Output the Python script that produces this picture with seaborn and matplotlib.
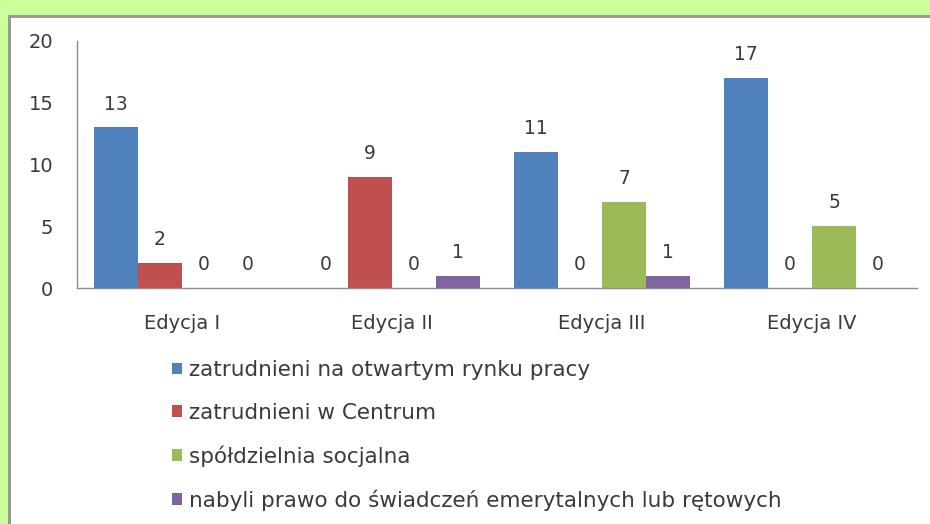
import matplotlib
matplotlib.use("Agg")
import matplotlib.pyplot as plt
import matplotlib.patches as mpatches
import seaborn as sns
import pandas as pd

editions = ["Edycja I", "Edycja II", "Edycja III", "Edycja IV"]
series = [
    "zatrudnieni na otwartym rynku pracy",
    "zatrudnieni w Centrum",
    "spółdzielnia socjalna",
    "nabyli prawo do świadczeń emerytalnych lub rętowych",
]
open_market = [13, 0, 11, 17]
centrum = [2, 9, 0, 0]
cooperative = [0, 0, 7, 5]
pension = [0, 1, 1, 0]
colors = ["#4F81BD", "#C0504D", "#9BBB59", "#8064A2"]
yticks = [0, 5, 10, 15, 20]

values = [open_market, centrum, cooperative, pension]
rows = []
for s, vals in zip(series, values):
    for e, v in zip(editions, vals):
        rows.append({"edycja": e, "seria": s, "wartosc": v})
df = pd.DataFrame(rows)

sns.set_style("white")
plt.rcParams["font.family"] = ["DejaVu Sans"]
txt = "#3a3a3a"

fig = plt.figure(figsize=(9.3, 5.24), dpi=100)
fig.patch.set_facecolor("#CCFF99")
# white panel with grey shadow edge
fig.patches.append(mpatches.Rectangle((8 / 930, 0), 1, 509 / 524, transform=fig.transFigure,
                                      facecolor="#9a9a9a", edgecolor="none", zorder=-2))
fig.patches.append(mpatches.Rectangle((11 / 930, 0), 1, 506 / 524, transform=fig.transFigure,
                                      facecolor="white", edgecolor="none", zorder=-1))

ax = fig.add_axes([77 / 930, 236 / 524, 840 / 930, 247 / 524])
ax.set_zorder(2)
ax.set_facecolor("none")
sns.barplot(data=df, x="edycja", y="wartosc", hue="seria", palette=colors,
            width=0.84, saturation=1, linewidth=0, ax=ax, legend=False)
ax.set_xlim(-0.5, 3.5)
ax.set_ylim(0, 20)
ax.set_yticks(yticks)
ax.set_xlabel("")
ax.set_ylabel("")
for sp in ["top", "right"]:
    ax.spines[sp].set_visible(False)
for sp in ["left", "bottom"]:
    ax.spines[sp].set_color("#8c8c8c")
    ax.spines[sp].set_linewidth(1)
ax.tick_params(axis="both", length=0, colors=txt)
ax.tick_params(axis="y", pad=17, labelsize=14)
ax.tick_params(axis="x", pad=18.5, labelsize=14)

for cont in ax.containers:
    ax.bar_label(cont, padding=10, fontsize=13.5, color=txt)

handles = [mpatches.Patch(facecolor=c, edgecolor="none") for c in colors]
leg = fig.legend(handles, series, loc="upper left", bbox_to_anchor=(172 / 930, 1 - 360 / 524),
                 frameon=False, fontsize=15.5, handlelength=0.45, handleheight=0.45,
                 handletextpad=0.35, labelspacing=1.05, borderaxespad=0, borderpad=0)
for t in leg.get_texts():
    t.set_color(txt)

fig.savefig("out.png", dpi=100, facecolor=fig.get_facecolor())
